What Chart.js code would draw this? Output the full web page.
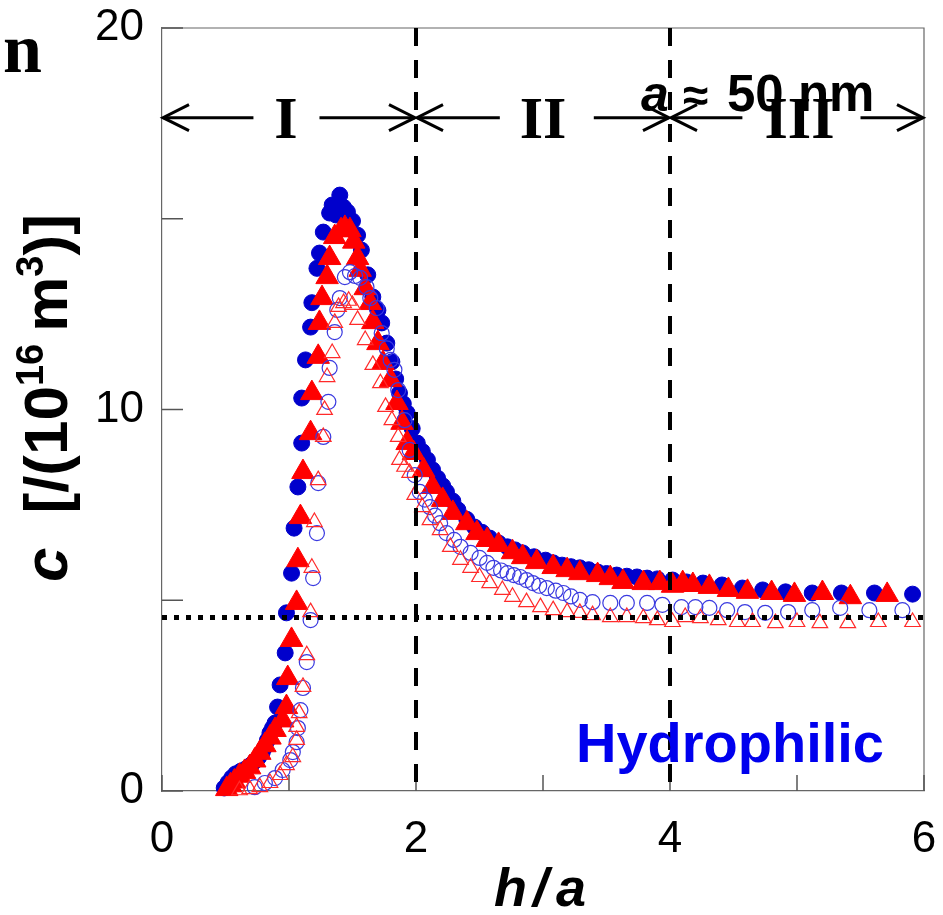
<!DOCTYPE html>
<html><head><meta charset="utf-8">
<style>html,body{margin:0;padding:0;background:#fff}#wrap{width:943px;height:915px;position:relative}</style>
<script src="https://cdn.jsdelivr.net/npm/chart.js@4/dist/chart.umd.min.js"></script>
</head><body><div id="wrap"><canvas id="c" width="943" height="915"></canvas></div>
<script>
// ---- data (h/a, c) ----
const blueFilledH = [0.49,0.52,0.55,0.58,0.62,0.66,0.70,0.73,0.76,0.79,0.81,0.83,0.85,0.87,0.89,0.91,0.93,0.97,0.98,1.02,1.04,1.07,1.10,1.10,1.13,1.17,1.18,1.22,1.24,1.27,1.32,1.34,1.37,1.40,1.43,1.46,1.50,1.54,1.57,1.62,1.66,1.70,1.73,1.77,1.81,1.84,1.87,1.90,1.93,1.97,2.01,2.05,2.09,2.13,2.17,2.21,2.24,2.29,2.33,2.40,2.46,2.52,2.58,2.65,2.72,2.78,2.84,2.93,3.02,3.08,3.15,3.22,3.29,3.36,3.43,3.50,3.58,3.66,3.74,3.82,3.90,4.02,4.13,4.26,4.41,4.57,4.73,4.91,5.12,5.35,5.61,5.91];
const blueFilledC = [0.08,0.22,0.35,0.45,0.52,0.58,0.68,0.78,0.88,1.02,1.15,1.33,1.52,1.65,1.78,2.2,2.78,3.62,4.67,5.71,6.89,7.97,9.12,10.3,11.3,12.16,12.8,13.7,14.1,14.65,15.15,15.36,15.1,15.62,15.3,15.18,14.94,14.57,14.18,13.53,12.95,12.6,12.27,11.74,11.25,10.8,10.43,10.15,9.91,9.5,9.12,8.9,8.68,8.42,8.2,8.0,7.84,7.6,7.37,7.12,6.92,6.78,6.63,6.5,6.4,6.32,6.24,6.14,6.05,5.98,5.92,5.88,5.85,5.8,5.74,5.7,5.66,5.63,5.61,5.58,5.56,5.53,5.48,5.45,5.4,5.32,5.27,5.22,5.19,5.19,5.19,5.16];

const redFilledH = [0.51,0.54,0.57,0.61,0.65,0.69,0.73,0.77,0.81,0.85,0.89,0.95,0.98,0.99,1.02,1.06,1.07,1.09,1.11,1.17,1.18,1.23,1.24,1.26,1.30,1.32,1.36,1.41,1.44,1.48,1.51,1.54,1.56,1.60,1.64,1.66,1.70,1.74,1.80,1.85,1.89,1.93,1.98,2.06,2.13,2.21,2.29,2.40,2.48,2.56,2.65,2.76,2.84,2.95,3.08,3.19,3.29,3.43,3.53,3.63,3.79,3.92,4.02,4.10,4.18,4.31,4.46,4.61,4.80,4.98,5.20,5.42,5.71];
const redFilledC = [0.05,0.15,0.25,0.4,0.5,0.62,0.8,1.0,1.2,1.4,1.6,1.85,2.2,2.96,3.96,4.93,6.05,7.18,8.36,9.38,10.43,11.38,12.27,12.92,13.47,13.97,14.52,14.7,14.76,14.7,14.4,13.97,13.66,13.18,12.79,12.29,11.74,11.22,10.77,10.17,9.65,9.12,8.86,8.41,7.97,7.63,7.29,7.02,6.76,6.58,6.45,6.26,6.13,6.0,5.87,5.79,5.71,5.66,5.58,5.48,5.45,5.45,5.38,5.45,5.4,5.35,5.27,5.22,5.19,5.14,5.19,5.08,5.14];

const blueOpenH = [0.73,0.81,0.89,0.95,1.01,1.03,1.06,1.07,1.09,1.11,1.14,1.17,1.19,1.22,1.23,1.27,1.31,1.32,1.36,1.38,1.40,1.44,1.48,1.52,1.56,1.61,1.64,1.69,1.73,1.77,1.80,1.83,1.86,1.91,1.95,1.99,2.03,2.07,2.11,2.15,2.19,2.24,2.30,2.35,2.43,2.50,2.56,2.61,2.67,2.72,2.77,2.82,2.87,2.92,2.97,3.03,3.10,3.16,3.22,3.29,3.39,3.53,3.66,3.82,3.94,4.09,4.20,4.31,4.45,4.59,4.75,4.93,5.12,5.34,5.57,5.83];
const blueOpenC = [0.1,0.21,0.34,0.55,0.81,1.02,1.28,1.65,2.12,2.7,3.38,4.48,5.58,6.76,8.07,9.28,10.2,11.09,12.03,12.61,12.92,13.47,13.6,13.5,13.45,13.21,12.92,12.66,12.0,11.6,11.3,11.04,10.51,9.72,8.94,8.28,7.84,7.64,7.44,7.22,7.02,6.76,6.58,6.4,6.24,6.11,5.98,5.85,5.78,5.71,5.66,5.61,5.53,5.45,5.38,5.32,5.25,5.19,5.1,5.01,4.95,4.93,4.93,4.93,4.88,4.82,4.82,4.8,4.74,4.69,4.67,4.69,4.74,4.8,4.74,4.74];

const redOpenH = [0.61,0.69,0.77,0.85,0.93,0.98,1.03,1.06,1.06,1.08,1.11,1.14,1.17,1.18,1.20,1.23,1.27,1.28,1.30,1.34,1.36,1.39,1.43,1.47,1.50,1.54,1.60,1.66,1.72,1.76,1.81,1.86,1.87,1.91,1.95,1.99,2.05,2.11,2.19,2.27,2.35,2.43,2.50,2.58,2.68,2.76,2.87,2.98,3.08,3.19,3.29,3.39,3.53,3.66,3.79,3.90,4.02,4.12,4.24,4.38,4.53,4.65,4.83,5.00,5.18,5.40,5.64,5.91];
const redOpenC = [0.02,0.05,0.1,0.21,0.42,0.68,0.89,1.34,1.68,2.04,2.73,3.56,4.69,5.85,7.05,8.15,9.28,9.99,10.85,11.48,12.27,12.69,12.79,12.85,12.74,12.35,11.82,11.17,10.69,10.07,9.72,9.28,8.68,8.5,8.34,7.76,7.44,7.1,6.84,6.4,6.06,5.85,5.61,5.45,5.27,5.09,4.95,4.82,4.74,4.69,4.67,4.61,4.56,4.56,4.53,4.48,4.43,4.56,4.53,4.48,4.43,4.43,4.4,4.43,4.4,4.4,4.43,4.43];

const xTickLabels = ['0','2','4','6'];
const yTickLabels = ['0','10','20'];
const regionEdges = [2, 4];
const bulkLevel = 4.55;
const regionNames = ['I','II','III'];
const regionCenters = [0.975, 3.0, 5.02];
const arrowLevel = 17.65;
const arrowGapsLeft = [0.72, 2.66, 4.57];
const arrowGapsRight = [1.24, 3.4, 5.5];

const pts = (hs, cs) => hs.map((h, i) => ({x: h, y: cs[i]}));
const SANS = '"Liberation Sans", Arial, sans-serif';
const SERIF = '"Liberation Serif", "Times New Roman", serif';

const overlay = {
  id: 'overlay',
  afterDatasetsDraw(chart) {
    const {ctx, chartArea: a, scales: {x, y}} = chart;
    ctx.save();
    // frame top/right
    ctx.strokeStyle = '#666'; ctx.lineWidth = 1.2;
    ctx.beginPath(); ctx.moveTo(a.left, a.top); ctx.lineTo(a.right, a.top); ctx.lineTo(a.right, a.bottom); ctx.stroke();
    // inward ticks
    ctx.strokeStyle = '#555'; ctx.lineWidth = 1.5;
    for (let v = 0; v <= 6; v++) { const px = x.getPixelForValue(v); ctx.beginPath(); ctx.moveTo(px, a.bottom); ctx.lineTo(px, a.bottom - 16); ctx.stroke(); }
    for (let v = 0; v <= 20; v += 5) { const py = y.getPixelForValue(v); ctx.beginPath(); ctx.moveTo(a.left, py); ctx.lineTo(a.left + 21, py); ctx.stroke(); }
    // dashed region boundaries
    ctx.strokeStyle = '#000'; ctx.lineWidth = 4; ctx.setLineDash([18, 14]);
    for (const v of regionEdges) { const px = x.getPixelForValue(v); ctx.beginPath(); ctx.moveTo(px, a.top); ctx.lineTo(px, a.bottom); ctx.stroke(); }
    // dotted bulk line
    ctx.lineWidth = 5; ctx.setLineDash([5, 7]);
    const pb = y.getPixelForValue(bulkLevel);
    ctx.beginPath(); ctx.moveTo(a.left, pb); ctx.lineTo(a.right, pb); ctx.stroke();
    ctx.setLineDash([]);
    // arrows
    const ay = y.getPixelForValue(arrowLevel);
    ctx.lineWidth = 3; ctx.lineCap = 'butt';
    const bounds = [0, 2, 4, 6];
    const head = (tip, dir) => { ctx.beginPath(); ctx.moveTo(tip + dir * 26, ay - 13); ctx.lineTo(tip, ay); ctx.lineTo(tip + dir * 26, ay + 13); ctx.stroke(); };
    for (let i = 0; i < 3; i++) {
      const l = x.getPixelForValue(bounds[i]), r = x.getPixelForValue(bounds[i + 1]);
      const gl = x.getPixelForValue(arrowGapsLeft[i]), gr = x.getPixelForValue(arrowGapsRight[i]);
      ctx.beginPath(); ctx.moveTo(l + 1, ay); ctx.lineTo(gl, ay); ctx.moveTo(gr, ay); ctx.lineTo(r - 1, ay); ctx.stroke();
      head(l + 1, 1); head(r - 1, -1);
      ctx.fillStyle = '#000'; ctx.font = 'bold 60px ' + SERIF; ctx.textAlign = 'center'; ctx.textBaseline = 'alphabetic';
      ctx.fillText(regionNames[i], x.getPixelForValue(regionCenters[i]), ay + 20);
    }
    // a ≈ 50 nm
    ctx.textAlign = 'left'; ctx.fillStyle = '#000';
    ctx.font = 'italic bold 50px ' + SANS; ctx.fillText('a', 641, 111);
    ctx.font = 'bold 46px ' + SANS; ctx.fillText('\u2248', 683, 111);
    ctx.font = 'bold 51px ' + SANS; ctx.fillText('50 nm', 727, 111);
    // Hydrophilic
    ctx.fillStyle = '#0000ee'; ctx.font = 'bold 56px ' + SANS; ctx.textAlign = 'center';
    ctx.fillText('Hydrophilic', 730, 762);
    ctx.restore();
  },
  afterDraw(chart) {
    const {ctx} = chart;
    ctx.save();
    ctx.fillStyle = '#000';
    // stray "n"
    ctx.font = 'bold 70px ' + SERIF; ctx.textAlign = 'left'; ctx.textBaseline = 'alphabetic';
    ctx.fillText('n', 3, 72);
    // x title h/a
    ctx.font = 'italic bold 54px ' + SANS;
    ctx.fillText('h', 494, 906); ctx.fillText('/', 533, 906); ctx.fillText('a', 556, 906);
    // y title rotated
    ctx.translate(67, 582); ctx.rotate(-Math.PI / 2);
    let s = 0;
    const F = 62;
    const put = (t, font, dy) => { ctx.font = font; ctx.fillText(t, s, dy); s += ctx.measureText(t).width; };
    put('c', 'italic bold ' + F + 'px ' + SANS, 0);
    s += 34;
    put('[/(10', 'bold ' + F + 'px ' + SANS, 0);
    put('16', 'bold ' + Math.round(F * 0.62) + 'px ' + SANS, -F * 0.38);
    s += 12;
    put('m', 'bold ' + F + 'px ' + SANS, 0);
    put('3', 'bold ' + Math.round(F * 0.62) + 'px ' + SANS, -F * 0.38);
    put(')]', 'bold ' + F + 'px ' + SANS, 0);
    ctx.restore();
  }
};

new Chart(document.getElementById('c'), {
  type: 'scatter',
  data: {
    datasets: [
      {label: 'open red', data: pts(redOpenH, redOpenC), pointStyle: 'triangle', pointRadius: 9, backgroundColor: 'rgba(0,0,0,0)', borderColor: '#ff2a2a', borderWidth: 1.2, clip: false},
      {label: 'open blue', data: pts(blueOpenH, blueOpenC), pointStyle: 'circle', pointRadius: 7.5, backgroundColor: 'rgba(0,0,0,0)', borderColor: '#3a3ae0', borderWidth: 1.2, clip: false},
      {label: 'filled red', data: pts(redFilledH, redFilledC), pointStyle: 'triangle', pointRadius: 13, backgroundColor: '#ff0000', borderColor: '#ff0000', borderWidth: 1, clip: false},
      {label: 'filled blue', data: pts(blueFilledH, blueFilledC), pointStyle: 'circle', pointRadius: 8, backgroundColor: '#0000cc', borderColor: '#0000cc', borderWidth: 1, clip: false}
    ]
  },
  options: {
    responsive: false, animation: false, devicePixelRatio: 1,
    layout: {padding: {left: 0, top: 28, right: 19, bottom: 0}},
    plugins: {legend: {display: false}, tooltip: {enabled: false}},
    scales: {
      x: {
        type: 'linear', min: 0, max: 6,
        grid: {display: false}, border: {display: true, color: '#666', width: 1.2},
        ticks: {stepSize: 1, autoSkip: false, maxRotation: 0, padding: 14, color: '#000', font: {family: SANS, size: 44},
          callback: v => xTickLabels.includes(String(v)) ? String(v) : ''},
        afterFit: s => { s.height = 124; s.paddingLeft = 0; s.paddingRight = 0; s.paddingTop = 0; s.paddingBottom = 0; }
      },
      y: {
        type: 'linear', min: 0, max: 20,
        grid: {display: false}, border: {display: true, color: '#666', width: 1.2},
        ticks: {stepSize: 5, autoSkip: false, padding: 10, color: '#000', font: {family: SANS, size: 44},
          callback: v => yTickLabels.includes(String(v)) ? String(v) : ''},
        afterFit: s => { s.width = 162; s.paddingLeft = 0; s.paddingRight = 0; s.paddingTop = 0; s.paddingBottom = 0; }
      }
    }
  },
  plugins: [overlay]
});
</script></body></html>
